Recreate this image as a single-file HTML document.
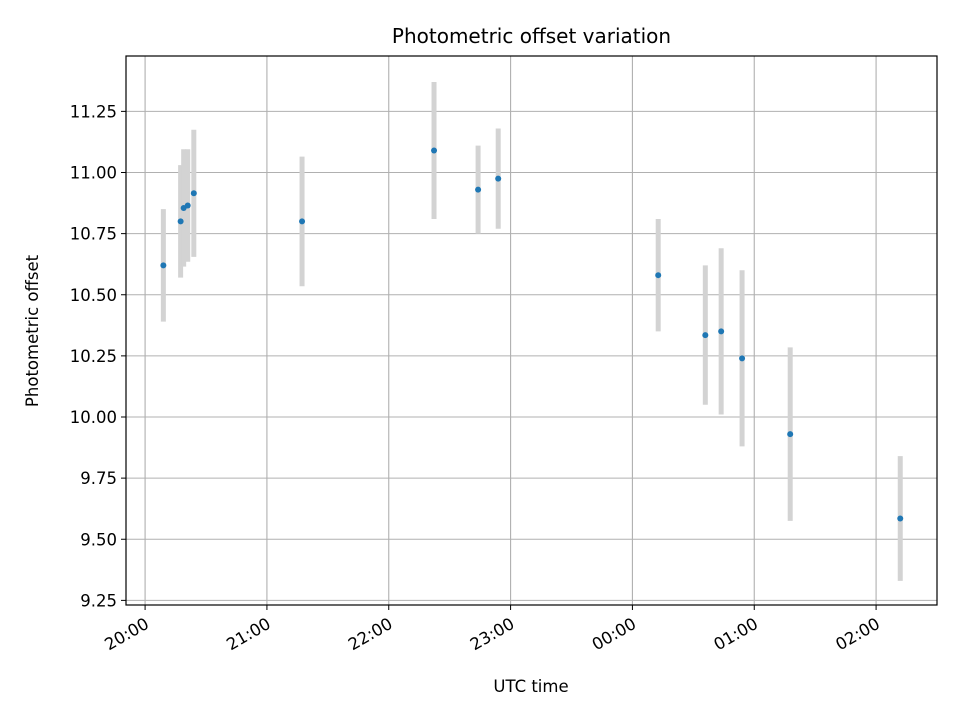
<!DOCTYPE html>
<html><head><meta charset="utf-8"><style>body{margin:0;background:#fff}svg{display:block}text{font-family:"DejaVu Sans","Liberation Sans",sans-serif;fill:#000}</style></head>
<body>
<svg id="c" width="960" height="720"></svg>
<script>
const minutes=[9,17.5,19,21,24,77.3,142.3,164,173.9,252.7,275.9,283.7,294,317.7,371.9];
const values=[10.62,10.80,10.855,10.865,10.915,10.80,11.09,10.93,10.975,10.58,10.335,10.35,10.24,9.93,9.585];
const errors=[0.23,0.23,0.24,0.23,0.26,0.265,0.28,0.18,0.205,0.23,0.285,0.34,0.36,0.355,0.255];
const yTicks=[9.25,9.5,9.75,10,10.25,10.5,10.75,11,11.25];
const xTickMin=[0,60,120,180,240,300,360];
const xTickLabels=["20:00","21:00","22:00","23:00","00:00","01:00","02:00"];
const L=126,R=937,T=56,B=605;
const X=m=>L+(m+9.4)/(399.4)*(R-L);
const Y=v=>417-(v-10)*244.5;
const svg=document.getElementById('c');const NS='http://www.w3.org/2000/svg';
function mk(t,a,p){const e=document.createElementNS(NS,t);for(const k in a)e.setAttribute(k,a[k]);(p||svg).appendChild(e);return e;}
const grid=mk('g',{});


yTicks.forEach(v=>{mk('line',{x1:L,x2:R,y1:Y(v),y2:Y(v),stroke:'#b0b0b0','stroke-width':1.1},grid);
 mk('line',{x1:L-5,x2:L,y1:Y(v),y2:Y(v),stroke:'#000'});
 const t=mk('text',{x:L-9,y:Y(v)+6,'text-anchor':'end','font-size':16.5});t.textContent=v.toFixed(2);
 
 });
xTickMin.forEach((m,i)=>{const x=X(m);mk('line',{x1:x,x2:x,y1:T,y2:B,stroke:'#b0b0b0','stroke-width':1.1},grid);
 mk('line',{x1:x,x2:x,y1:B,y2:B+5,stroke:'#000'});
 const t=mk('text',{x:x+5,y:B+22,'text-anchor':'end','font-size':16.5,transform:`rotate(-30 ${x+5} ${B+22})`});t.textContent=xTickLabels[i];
 
 });
minutes.forEach((m,i)=>{const x=X(m);
 const e=mk('line',{x1:x,x2:x,y1:Y(values[i]+errors[i]),y2:Y(values[i]-errors[i]),stroke:'#d3d3d3','stroke-width':5});
 
 });
minutes.forEach((m,i)=>{const p=mk('circle',{cx:X(m),cy:Y(values[i]),r:3,fill:'#1f77b4'});
 
 });
const f=mk('rect',{x:L,y:T,width:R-L,height:B-T,fill:'none',stroke:'#000','stroke-width':1.2});


let t=mk('text',{x:(L+R)/2,y:43,'text-anchor':'middle','font-size':20});t.textContent='Photometric offset variation';


t=mk('text',{x:531,y:692,'text-anchor':'middle','font-size':16.5});t.textContent='UTC time';


t=mk('text',{x:38,y:331,'text-anchor':'middle','font-size':16.5,transform:'rotate(-90 38 331)'});t.textContent='Photometric offset';


</script>
</body></html>
